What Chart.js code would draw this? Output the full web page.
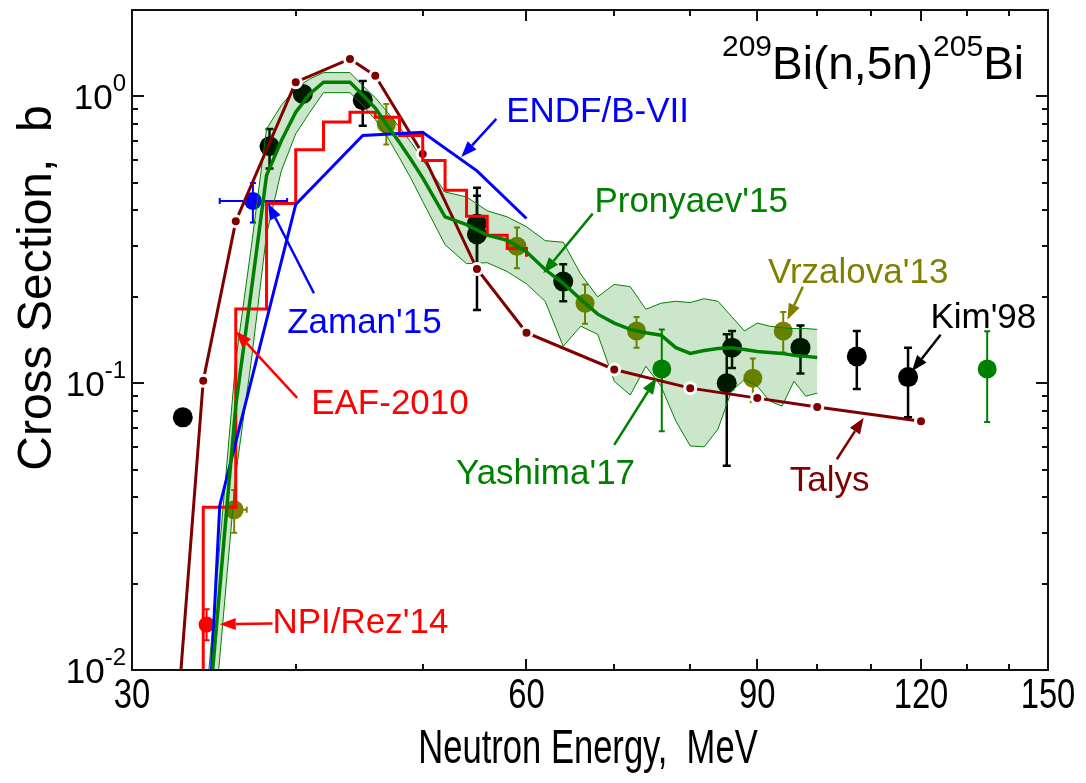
<!DOCTYPE html>
<html>
<head>
<meta charset="utf-8">
<script src="https://cdn.jsdelivr.net/npm/chart.js@4.4.0/dist/chart.umd.min.js"></script>
<style>
  html, body { margin: 0; padding: 0; background: #fff; }
  #wrap { width: 1086px; height: 783px; }
</style>
</head>
<body>
<div id="wrap"><canvas id="chart" width="1086" height="783"></canvas></div>
<script>
// Talys (linha com pontos)
const talysE = [32, 34, 36, 40, 44, 46, 50, 55, 60, 70, 80, 90, 100, 120];
const talysXS = [0.0028, 0.102, 0.367, 1.12, 1.35, 1.18, 0.63, 0.25, 0.15, 0.1116, 0.0961, 0.0887, 0.0826, 0.0736];

// EAF-2010 (histograma, valor no início de cada intervalo)
const eafE = [33, 34, 36, 38, 40, 42, 44, 46, 48, 50, 52, 54, 56, 58, 60];
const eafXS = [0.001, 0.0369, 0.1815, 0.423, 0.651, 0.814, 0.88, 0.845, 0.73, 0.598, 0.471, 0.382, 0.328, 0.295, 0.276];

// ENDF/B-VII
const endfE = [34, 35, 40, 45, 50, 55, 60];
const endfXS = [0.0027, 0.0374, 0.42, 0.73, 0.75, 0.55, 0.375];

// Pronyaev'15: média e faixa de incerteza
const pronE = [34, 35, 36, 37, 38, 39, 40, 41, 42, 43, 44, 45, 46, 47, 48, 49, 50,
  52, 54, 56, 58, 60, 62, 64, 66, 68, 70, 72, 74, 76, 78, 80, 82, 84, 86, 88, 90, 92, 94, 96, 98, 100];
const pronMean = [0.0042, 0.0192, 0.0835, 0.211, 0.53, 0.70, 0.88, 1.02, 1.12, 1.12, 1.12, 1.01, 0.91, 0.79, 0.69, 0.60, 0.52,
  0.38, 0.357, 0.328, 0.315, 0.287, 0.249, 0.223, 0.196, 0.174, 0.162, 0.154, 0.150, 0.147, 0.133, 0.127, 0.130, 0.132, 0.133, 0.131, 0.129, 0.128, 0.127, 0.125, 0.124, 0.123];
const pronHi = [0.006, 0.027, 0.12, 0.30, 0.77, 0.93, 1.07, 1.15, 1.21, 1.21, 1.21, 1.09, 0.99, 0.88, 0.78, 0.69, 0.60,
  0.464, 0.446, 0.399, 0.380, 0.351, 0.314, 0.310, 0.24, 0.200, 0.221, 0.217, 0.181, 0.190, 0.193, 0.191, 0.197, 0.193, 0.171, 0.152, 0.162, 0.158, 0.156, 0.155, 0.155, 0.154];
const pronLo = [0.0025, 0.011, 0.048, 0.12, 0.33, 0.55, 0.74, 0.88, 1.03, 1.03, 1.03, 0.93, 0.83, 0.72, 0.61, 0.515, 0.43,
  0.304, 0.261, 0.263, 0.245, 0.222, 0.193, 0.1345, 0.158, 0.148, 0.1016, 0.0909, 0.1146, 0.0976, 0.0738, 0.0604, 0.060, 0.0692, 0.0938, 0.103, 0.0976, 0.0866, 0.0832, 0.1016, 0.0901, 0.0923];

// Kim'98
const kimE = [32.8, 38.2, 40.5, 45.0, 55.0, 55.0, 64.0, 85.3, 86.1, 97.1, 107.2, 117.3];
const kimXS = [0.076, 0.67, 1.02, 0.97, 0.36, 0.33, 0.226, 0.100, 0.133, 0.133, 0.124, 0.105];
const kimLo = [null, 0.56, null, 0.79, 0.24, 0.18, 0.193, 0.0515, 0.113, 0.108, 0.0955, 0.076];
const kimHi = [null, 0.77, null, 1.13, 0.48, 0.45, 0.26, 0.148, 0.152, 0.159, 0.152, 0.133];

// Vrzalova'13
const vrzE = [35.9, 46.9, 59.0, 66.5, 72.8, 89.3, 94.2];
const vrzXS = [0.0362, 0.80, 0.30, 0.19, 0.152, 0.104, 0.152];
const vrzLo = [0.0301, 0.68, 0.2515, 0.161, 0.133, 0.086, 0.128];
const vrzHi = [0.0424, 0.94, 0.349, 0.221, 0.170, 0.122, 0.177];
const vrzELo = [35.4, null, null, null, null, null, null];
const vrzEHi = [36.7, null, null, null, null, null, null];

// Yashima'17
const yasE = [76.1, 134.8];
const yasXS = [0.112, 0.112];
const yasLo = [0.068, 0.0732];
const yasHi = [0.154, 0.1516];

// Zaman'15
const zamE = [37.1];
const zamXS = [0.432];
const zamLo = [0.363];
const zamHi = [0.499];
const zamELo = [35.0];
const zamEHi = [39.4];

// NPI/Rez'14
const npiE = [34.2];
const npiXS = [0.0144];
const npiLo = [0.0127];
const npiHi = [0.0163];

// Eixos
const xTicks = [30, 40, 50, 60, 70, 80, 90, 100, 110, 120, 130, 140, 150];
const xLabels = [30, 60, 90, 120, 150];
const yMajor = [0.01, 0.1, 1];
const yExp = ['-2', '-1', '0'];
const yMinor = [0.02, 0.03, 0.04, 0.05, 0.06, 0.07, 0.08, 0.09, 0.2, 0.3, 0.4, 0.5, 0.6, 0.7, 0.8, 0.9];

const SANS = '"Liberation Sans", Arial, sans-serif';

// Anotações: texto (canto inferior esquerdo) e seta em coordenadas de dados
const notes = [
  { text: 'ENDF/B-VII', color: '#0000ff', at: [57.9, 0.812], from: [56.9, 0.834], to: [53.5, 0.614] },
  { text: "Pronyaev'15", color: '#008000', at: [67.6, 0.396], from: [67.4, 0.39], to: [61.8, 0.2415] },
  { text: "Vrzalova'13", color: '#808000', at: [91.7, 0.223], from: [97.5, 0.217], to: [94.9, 0.1664] },
  { text: "Kim'98", color: '#000000', at: [122, 0.1556], from: [124.2, 0.1476], to: [118.1, 0.110] },
  { text: 'Talys', color: '#800000', at: [95.3, 0.0422], from: [103.5, 0.0543], to: [108.5, 0.0758] },
  { text: "Yashima'17", color: '#008000', at: [53.0, 0.0445], from: [70.0, 0.0609], to: [75.4, 0.1043] },
  { text: "Zaman'15", color: '#0000ff', at: [39.4, 0.1495], from: [41.3, 0.2058], to: [38.1, 0.423] },
  { text: 'EAF-2010', color: '#ff0000', at: [41.1, 0.0779], from: [40.1, 0.0889], to: [36.0, 0.1516] },
  { text: "NPI/Rez'14", color: '#ff0000', at: [38.4, 0.01341], from: [38.4, 0.01453], to: [35.0, 0.01445] }
];

const pts = (xs, ys, lo, hi, xlo, xhi) => xs.map((x, i) => ({
  x, y: ys[i],
  yLo: lo ? lo[i] : null, yHi: hi ? hi[i] : null,
  xLo: xlo ? xlo[i] : null, xHi: xhi ? xhi[i] : null
}));

// Barras de erro desenhadas antes dos marcadores
const errorBars = {
  id: 'errorBars',
  beforeDatasetDraw(chart, args) {
    const ds = chart.data.datasets[args.index];
    if (!ds.errColor) return;
    const { ctx, chartArea: a } = chart;
    const xs = chart.scales.x, ys = chart.scales.y;
    ctx.save();
    ctx.beginPath();
    ctx.rect(a.left, a.top, a.right - a.left, a.bottom - a.top);
    ctx.clip();
    ctx.strokeStyle = ds.errColor;
    ctx.lineWidth = ds.errWidth;
    const c = ds.capHalf;
    ds.data.forEach(p => {
      const px = xs.getPixelForValue(p.x), py = ys.getPixelForValue(p.y);
      ctx.beginPath();
      if (p.yLo != null) {
        const y1 = ys.getPixelForValue(p.yLo), y2 = ys.getPixelForValue(p.yHi);
        ctx.moveTo(px, y1); ctx.lineTo(px, y2);
        ctx.moveTo(px - c, y1); ctx.lineTo(px + c, y1);
        ctx.moveTo(px - c, y2); ctx.lineTo(px + c, y2);
      }
      if (p.xLo != null) {
        const x1 = xs.getPixelForValue(p.xLo), x2 = xs.getPixelForValue(p.xHi);
        ctx.moveTo(x1, py); ctx.lineTo(x2, py);
        ctx.moveTo(x1, py - c); ctx.lineTo(x1, py + c);
        ctx.moveTo(x2, py - c); ctx.lineTo(x2, py + c);
      }
      ctx.stroke();
    });
    ctx.restore();
  }
};

// texto com largura comprimida (imita fonte estreita)
const narrowText = (ctx, text, x, y, size, squeeze, align) => {
  ctx.save();
  ctx.translate(x, y);
  ctx.scale(squeeze, 1);
  ctx.font = size + 'px ' + SANS;
  ctx.textAlign = align;
  ctx.fillText(text, 0, 0);
  ctx.restore();
};

// Moldura com marcas internas, rótulos dos eixos e anotações
const frame = {
  id: 'frame',
  afterDraw(chart) {
    const { ctx, chartArea: a } = chart;
    const xs = chart.scales.x, ys = chart.scales.y;
    ctx.save();
    ctx.strokeStyle = '#111';
    ctx.lineWidth = 2;
    ctx.strokeRect(a.left, a.top, a.right - a.left, a.bottom - a.top);
    ctx.beginPath();
    xTicks.forEach(v => {
      const px = Math.round(xs.getPixelForValue(v));
      const len = xLabels.includes(v) ? 11 : 6;
      ctx.moveTo(px, a.bottom); ctx.lineTo(px, a.bottom - len);
      ctx.moveTo(px, a.top); ctx.lineTo(px, a.top + len);
    });
    yMajor.concat(yMinor).forEach(v => {
      const py = Math.round(ys.getPixelForValue(v));
      const len = yMajor.includes(v) ? 12 : 6;
      ctx.moveTo(a.left, py); ctx.lineTo(a.left + len, py);
      ctx.moveTo(a.right, py); ctx.lineTo(a.right - len, py);
    });
    ctx.stroke();

    ctx.fillStyle = '#000';
    ctx.textBaseline = 'alphabetic';

    // rótulos do eixo x
    xLabels.forEach(v => narrowText(ctx, String(v), xs.getPixelForValue(v), 708, 42, 0.78, 'center'));
    narrowText(ctx, 'Neutron Energy,  MeV', 588, 763, 48, 0.72, 'center');

    // rótulos 10^n
    yMajor.forEach((v, i) => {
      const py = ys.getPixelForValue(v);
      ctx.font = '24px ' + SANS;
      const we = ctx.measureText(yExp[i]).width;
      ctx.font = '35px ' + SANS;
      const wb = ctx.measureText('10').width;
      const right = 126;
      ctx.textAlign = 'left';
      ctx.fillText('10', right - we - wb, py + 13);
      ctx.font = '24px ' + SANS;
      ctx.fillText(yExp[i], right - we, py - 5);
    });

    // título do eixo y
    ctx.save();
    ctx.translate(38, 288);
    ctx.rotate(-Math.PI / 2);
    ctx.font = '48px ' + SANS;
    ctx.textAlign = 'center';
    ctx.textBaseline = 'middle';
    ctx.fillText('Cross Section,  b', 0, 0);
    ctx.restore();

    // título da reação
    ctx.textAlign = 'left';
    ctx.textBaseline = 'alphabetic';
    const parts = [['209', 30, -23], ['Bi(n,5n)', 46, 0], ['205', 30, -23], ['Bi', 46, 0]];
    let x = 722;
    parts.forEach(([t, s, dy]) => {
      ctx.font = s + 'px ' + SANS;
      ctx.fillText(t, x, 79 + dy);
      x += ctx.measureText(t).width;
    });

    // anotações com setas
    notes.forEach(n => {
      ctx.fillStyle = n.color;
      ctx.strokeStyle = n.color;
      ctx.font = '35px ' + SANS;
      ctx.fillText(n.text, xs.getPixelForValue(n.at[0]), ys.getPixelForValue(n.at[1]));
      const x1 = xs.getPixelForValue(n.from[0]), y1 = ys.getPixelForValue(n.from[1]);
      const x2 = xs.getPixelForValue(n.to[0]), y2 = ys.getPixelForValue(n.to[1]);
      const ang = Math.atan2(y2 - y1, x2 - x1);
      const hl = 16, hw = 6;
      const bx = x2 - hl * Math.cos(ang), by = y2 - hl * Math.sin(ang);
      ctx.lineWidth = 2.5;
      ctx.beginPath();
      ctx.moveTo(x1, y1); ctx.lineTo(bx, by);
      ctx.stroke();
      ctx.beginPath();
      ctx.moveTo(x2, y2);
      ctx.lineTo(bx + hw * Math.sin(ang), by - hw * Math.cos(ang));
      ctx.lineTo(bx - hw * Math.sin(ang), by + hw * Math.cos(ang));
      ctx.closePath();
      ctx.fill();
    });
    ctx.restore();
  }
};

const lineSet = (label, xs, ys, color, width, extra) => Object.assign({
  label, data: pts(xs, ys), borderColor: color, backgroundColor: color,
  borderWidth: width, pointRadius: 0, fill: false, tension: 0
}, extra || {});

const scatterSet = (label, data, color, radius, errWidth, capHalf) => ({
  label, data, showLine: false, pointRadius: radius, pointBorderWidth: 0,
  pointBackgroundColor: color, backgroundColor: color, borderColor: color,
  errColor: color, errWidth, capHalf
});

// Ordem: o primeiro conjunto fica por cima
const datasets = [
  lineSet("Pronyaev'15", pronE, pronMean, '#008000', 3.5),
  lineSet('ENDF/B-VII', endfE, endfXS, '#0000ff', 3),
  lineSet('EAF-2010', eafE, eafXS, '#ff0000', 3, { stepped: 'before' }),
  lineSet('Talys', talysE, talysXS, '#800000', 3, {
    pointRadius: 5.5, pointBackgroundColor: '#800000', pointBorderColor: '#ffffff', pointBorderWidth: 3
  }),
  lineSet('Pronyaev hi', pronE, pronHi, '#008000', 1, { fill: '+1', backgroundColor: 'rgba(0,128,0,0.2)' }),
  lineSet('Pronyaev lo', pronE, pronLo, '#008000', 1),
  scatterSet("NPI/Rez'14", pts(npiE, npiXS, npiLo, npiHi), '#ff0000', 8, 2, 3),
  scatterSet("Zaman'15", pts(zamE, zamXS, zamLo, zamHi, zamELo, zamEHi), '#0000ff', 9, 2, 3),
  scatterSet("Yashima'17", pts(yasE, yasXS, yasLo, yasHi), '#008000', 9.5, 2, 3),
  scatterSet("Vrzalova'13", pts(vrzE, vrzXS, vrzLo, vrzHi, vrzELo, vrzEHi), '#808000', 9.5, 2, 3),
  scatterSet("Kim'98", pts(kimE, kimXS, kimLo, kimHi), '#000000', 10, 2.5, 4)
];

new Chart(document.getElementById('chart'), {
  type: 'line',
  data: { datasets },
  options: {
    responsive: false,
    animation: false,
    events: [],
    layout: { padding: { top: 8, right: 38, left: 0, bottom: 0 } },
    plugins: {
      legend: { display: false },
      tooltip: { enabled: false },
      filler: { propagate: false, drawTime: 'beforeDatasetDraw' }
    },
    scales: {
      x: {
        type: 'logarithmic', min: 30, max: 150, bounds: 'data',
        afterBuildTicks: s => { s.ticks = xTicks.map(v => ({ value: v })); },
        afterFit: s => { s.height = 113; },
        grid: { display: false, drawTicks: false },
        border: { display: false },
        ticks: { display: false }
      },
      y: {
        type: 'logarithmic', min: 0.01, max: 2, bounds: 'data',
        afterFit: s => { s.width = 132; },
        grid: { display: false, drawTicks: false },
        border: { display: false },
        ticks: { display: false }
      }
    }
  },
  plugins: [errorBars, frame]
});
</script>
</body>
</html>
